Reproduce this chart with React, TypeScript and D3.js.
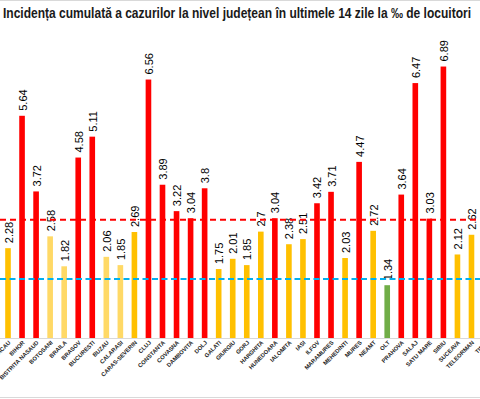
import React from "react";
import * as d3 from "d3";

const counties = [
  "BACAU", "BIHOR", "BISTRITA NASAUD", "BOTOSANI", "BRAILA", "BRASOV", "BUCURESTI",
  "BUZAU", "CALARASI", "CARAS-SEVERIN", "CLUJ", "CONSTANTA", "COVASNA", "DAMBOVITA",
  "DOLJ", "GALATI", "GIURGIU", "GORJ", "HARGHITA", "HUNEDOARA", "IALOMITA", "IASI",
  "ILFOV", "MARAMURES", "MEHEDINTI", "MURES", "NEAMT", "OLT", "PRAHOVA", "SALAJ",
  "SATU MARE", "SIBIU", "SUCEAVA", "TELEORMAN", "TIMIS",
];
const incidence: (number | null)[] = [
  2.28, 5.64, 3.72, 2.58, 1.82, 4.58, 5.11,
  2.06, 1.85, 2.69, 6.56, 3.89, 3.22, 3.04,
  3.8, 1.75, 2.01, 1.85, 2.7, 3.04, 2.38, 2.51,
  3.42, 3.71, 2.03, 4.47, 2.72, 1.34, 3.64, 6.47,
  3.03, 6.89, 2.12, 2.62, null,
];
const lightCounties = ["BOTOSANI", "BRAILA", "BUZAU", "CALARASI"];
const highThreshold = 3;
const lowThreshold = 1.5;
const title =
  "Incidența cumulată a cazurilor la nivel județean în ultimele 14 zile la ‰ de locuitori";

const W = 480;
const H = 399;
const baseY = 338;

export default function App() {
  const step = 14.045;
  const x = d3
    .scaleBand<string>()
    .domain(counties)
    .range([8 - step / 2, 8 - step / 2 + counties.length * step])
    .paddingInner(0.6)
    .paddingOuter(0.3);
  const y = d3.scaleLinear().domain([0, 7]).range([baseY, baseY - 7 * 39.4]);

  const colorOf = (name: string, v: number) => {
    if (v > highThreshold) return "#FF0000";
    if (v < lowThreshold) return "#70AD47";
    if (lightCounties.includes(name)) return "#FFD966";
    return "#FFC000";
  };

  return (
    <svg
      width={W}
      height={H}
      style={{ position: "absolute", left: 0, top: 0, background: "#fff" }}
      fontFamily="'Liberation Sans', Arial, sans-serif"
    >
      <rect x={0} y={0} width={W} height={H} fill="#fff" />
      <line x1={0} x2={W} y1={0.5} y2={0.5} stroke="#D9D9D9" />
      <line x1={0} x2={W} y1={397.5} y2={397.5} stroke="#D9D9D9" />
      <text
        x={3}
        y={17.5}
        fontSize={14}
        fontWeight="bold"
        fill="#1a1a1a"
        textLength={468}
        lengthAdjust="spacingAndGlyphs"
      >
        {title}
      </text>
      <line x1={0} x2={W} y1={baseY + 0.5} y2={baseY + 0.5} stroke="#D9D9D9" />
      {counties.map((c, i) => {
        const v = incidence[i];
        const cx = (x(c) as number) + x.bandwidth() / 2;
        return (
          <g key={c}>
            {v !== null && (
              <>
                <rect
                  x={x(c)}
                  y={y(v)}
                  width={x.bandwidth()}
                  height={baseY - y(v)}
                  fill={colorOf(c, v)}
                />
                <text
                  transform={`translate(${cx + 4.5},${y(v) - 5}) rotate(-90)`}
                  fontSize={11}
                  fill="#000"
                  textAnchor="start"
                >
                  {String(v)}
                </text>
              </>
            )}
            <text
              transform={`translate(${cx + 3},${baseY + 5}) rotate(-45)`}
              fontSize={5.8}
              fontWeight="bold"
              fill="#262626"
              textAnchor="end"
              fontFamily="'Liberation Sans Narrow', 'Liberation Sans', Arial, sans-serif"
            >
              {c}
            </text>
          </g>
        );
      })}
      <line
        x1={0}
        x2={W}
        y1={y(highThreshold)}
        y2={y(highThreshold)}
        stroke="#FF0000"
        strokeWidth={2}
        strokeDasharray="6,4"
      />
      <line
        x1={0}
        x2={W}
        y1={y(lowThreshold)}
        y2={y(lowThreshold)}
        stroke="#00B0F0"
        strokeWidth={2}
        strokeDasharray="6,3.5"
      />
    </svg>
  );
}
